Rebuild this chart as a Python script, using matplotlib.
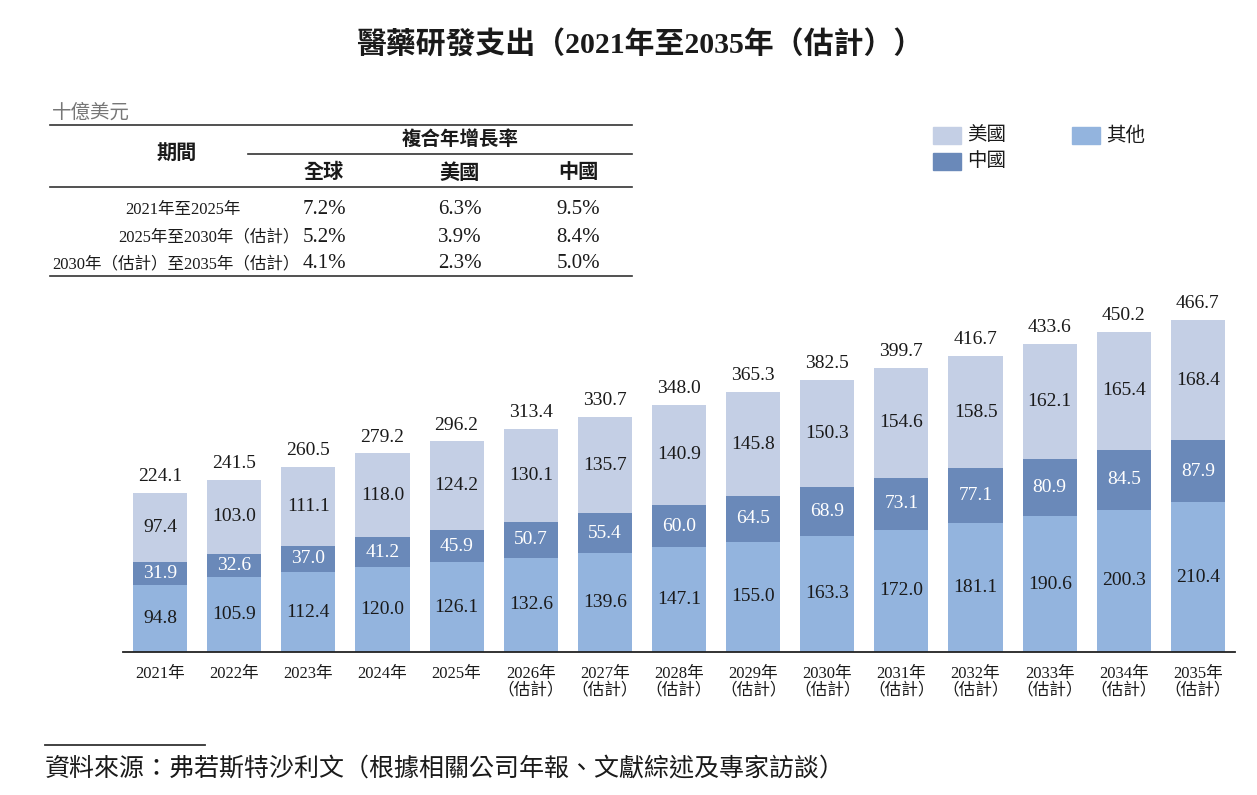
import matplotlib
matplotlib.use("Agg")
import matplotlib.pyplot as plt
import numpy as np

# ---------------- data ----------------
years = ["2021年", "2022年", "2023年", "2024年", "2025年", "2026年", "2027年", "2028年",
         "2029年", "2030年", "2031年", "2032年", "2033年", "2034年", "2035年"]
estimated = [False] * 5 + [True] * 10
other = [94.8, 105.9, 112.4, 120.0, 126.1, 132.6, 139.6, 147.1, 155.0, 163.3, 172.0, 181.1, 190.6, 200.3, 210.4]
china = [31.9, 32.6, 37.0, 41.2, 45.9, 50.7, 55.4, 60.0, 64.5, 68.9, 73.1, 77.1, 80.9, 84.5, 87.9]
usa = [97.4, 103.0, 111.1, 118.0, 124.2, 130.1, 135.7, 140.9, 145.8, 150.3, 154.6, 158.5, 162.1, 165.4, 168.4]
totals = [224.1, 241.5, 260.5, 279.2, 296.2, 313.4, 330.7, 348.0, 365.3, 382.5, 399.7, 416.7, 433.6, 450.2, 466.7]

periods = ["2021年至2025年", "2025年至2030年（估計）", "2030年（估計）至2035年（估計）"]
cagr_global = ["7.2%", "5.2%", "4.1%"]
cagr_us = ["6.3%", "3.9%", "2.3%"]
cagr_cn = ["9.5%", "8.4%", "5.0%"]

title = "醫藥研發支出（2021年至2035年（估計））"
unit = "十億美元"
source = "資料來源：弗若斯特沙利文（根據相關公司年報、文獻綜述及專家訪談）"

# ---------------- style ----------------
C_US = "#c4cfe5"
C_CN = "#6a89b9"
C_OT = "#93b4de"
TXT = "#1a1a1a"
SERIF = ["Liberation Serif", "Noto Sans CJK TC", "DejaVu Sans"]
SANS = ["Noto Sans CJK TC", "DejaVu Sans"]
plt.rcParams["font.family"] = SERIF

W, H = 1257, 795
fig = plt.figure(figsize=(W / 100, H / 100), dpi=100)

def fx(px):
    return px / W

def fy(py):
    return 1 - py / H

# ---------------- bar chart ----------------
left_px, right_px, base_px, top_px = 123, 1235, 652, 296.5
ax = fig.add_axes([fx(left_px), fy(base_px), fx(right_px - left_px), (base_px - top_px) / H])
x = np.arange(len(years))
bw = 0.73
ax.bar(x, other, bw, color=C_OT, zorder=2)
ax.bar(x, china, bw, bottom=other, color=C_CN, zorder=2)
bot2 = np.array(other) + np.array(china)
ax.bar(x, usa, bw, bottom=bot2, color=C_US, zorder=2)
ax.set_xlim(-0.5, len(years) - 0.5)
ax.set_ylim(0, 500)
for s in ["top", "right", "left"]:
    ax.spines[s].set_visible(False)
ax.spines["bottom"].set_color("#222222")
ax.spines["bottom"].set_linewidth(1.3)
ax.set_yticks([])
ax.set_xticks(x)
ax.set_xticklabels([y + ("\n（估計）" if e else "") for y, e in zip(years, estimated)],
                   fontsize=12, color=TXT, linespacing=1.05, va="top")
ax.tick_params(axis="x", length=0, pad=10)

VFS = 14
for i in range(len(years)):
    ax.text(x[i], other[i] / 2, f"{other[i]:.1f}", ha="center", va="center", fontsize=VFS, color=TXT)
    ax.text(x[i], other[i] + china[i] / 2, f"{china[i]:.1f}", ha="center", va="center", fontsize=VFS, color="white")
    ax.text(x[i], bot2[i] + usa[i] / 2, f"{usa[i]:.1f}", ha="center", va="center", fontsize=VFS, color=TXT)
    ax.text(x[i], totals[i] + 11, f"{totals[i]:.1f}", ha="center", va="bottom", fontsize=VFS, color=TXT)

# ---------------- title ----------------
fig.text(fx(640), fy(45), title, ha="center", va="center", fontsize=21.5, fontweight="bold",
         color=TXT, family=["Liberation Serif", "Noto Sans CJK TC"])

# ---------------- unit ----------------
fig.text(fx(52), fy(112), unit, ha="left", va="center", fontsize=14, color="#777777", family=SANS)

# ---------------- table ----------------
def hline(x0, x1, y, lw=1.2):
    fig.add_artist(plt.Line2D([fx(x0), fx(x1)], [fy(y), fy(y)], color="#333333", lw=lw))

hline(50, 632, 125)
hline(248, 632, 154)
hline(50, 632, 187)
hline(50, 632, 276)
fig.text(fx(460), fy(139), "複合年增長率", ha="center", va="center", fontsize=14, fontweight="bold", color=TXT, family=SANS)
fig.text(fx(177), fy(152), "期間", ha="center", va="center", fontsize=14.5, fontweight="bold", color=TXT, family=SANS)
col_x = [324, 460, 578]
for cx, lab in zip(col_x, ["全球", "美國", "中國"]):
    fig.text(fx(cx), fy(172), lab, ha="center", va="center", fontsize=14.5, fontweight="bold", color=TXT, family=SANS)
row_y = [210, 237, 264]
row_right = [241, 300, 300]
for i in range(3):
    fig.text(fx(row_right[i]), fy(row_y[i]), periods[i], ha="right", va="center", fontsize=11.9, color=TXT, family=SERIF)
    for cx, vals in zip(col_x, [cagr_global, cagr_us, cagr_cn]):
        fig.text(fx(cx), fy(row_y[i]), vals[i], ha="center", va="center", fontsize=15, color=TXT)

# ---------------- legend ----------------
def legend_item(x0, y0, color, label):
    fig.add_artist(plt.Rectangle((fx(x0), fy(y0 + 17)), fx(28), 17 / H, color=color, transform=fig.transFigure))
    fig.text(fx(x0 + 34), fy(y0 + 8), label, ha="left", va="center", fontsize=14, color=TXT, family=SANS)

legend_item(933, 127, C_US, "美國")
legend_item(933, 153, C_CN, "中國")
legend_item(1072, 127, C_OT, "其他")

# ---------------- source ----------------
hline(45, 205, 745, lw=1.3)
fig.text(fx(45), fy(768), source, ha="left", va="center", fontsize=18, color=TXT, family=SANS, style="italic")

fig.savefig("out.png", dpi=100)
